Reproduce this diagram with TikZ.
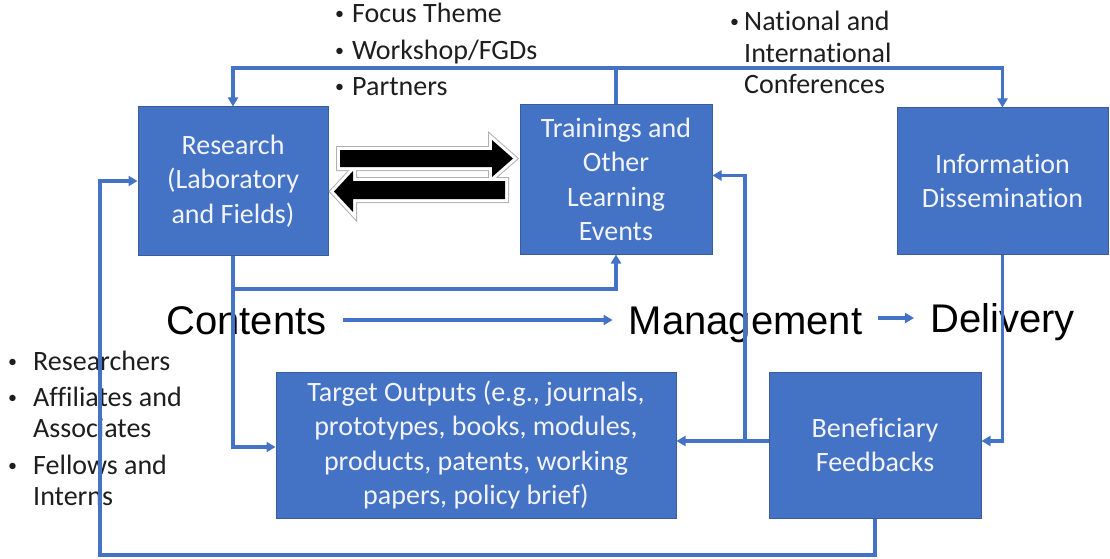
\documentclass[tikz,border=0pt]{standalone}
\usepackage{fontspec}
\setmainfont{Carlito}[Ligatures=NoCommon]
\newfontfamily\arialf{Liberation Sans}
\usetikzlibrary{arrows.meta,calc}
\definecolor{boxblue}{HTML}{4472C4}
\definecolor{boxedge}{HTML}{3A5C9A}
\definecolor{txt}{HTML}{1E1E1E}
\definecolor{boxtxt}{HTML}{F2F4FA}
\definecolor{glowgray}{HTML}{B0B0B0}
\newcommand{\mybul}[1]{\makebox[#1][l]{\raisebox{3pt}{\fontsize{18}{18}\selectfont\textbullet}}}
\begin{document}
\begin{tikzpicture}[x=1pt,y=-1pt,
  box/.style={rectangle, fill=boxblue, draw=boxedge, line width=1pt, text=boxtxt, align=center,
              font=\fontsize{28}{34.5}\selectfont, inner sep=0pt},
  conn/.style={draw=boxblue, line width=3.3pt},
  arr/.style={conn, -{Triangle[length=9pt,width=10pt]}},
  big/.style={font=\arialf\fontsize{40}{48}\selectfont, text=black, inner xsep=16pt, inner ysep=0pt, anchor=base},
  lst/.style={font=\fontsize{28}{31}\selectfont, text=txt, inner sep=0pt, anchor=base west}
]
\useasboundingbox (0,0) rectangle (1110,559);

% boxes
\node[box, minimum width=190pt, minimum height=148pt] (re) at (233,181) {Research\\(Laboratory\\and Fields)};
\node[box, minimum width=192pt, minimum height=149pt] (tr) at (616,179.5) {Trainings and\\Other\\Learning\\Events};
\node[box, minimum width=211pt, minimum height=146pt] (info) at (1002.5,181) {Information\\Dissemination};
\node[box, minimum width=400pt, minimum height=146pt] (tg) at (476,445) {Target Outputs (e.g., journals,\\prototypes, books, modules,\\products, patents, working\\papers, policy brief)};
\node[box, minimum width=212pt, minimum height=146pt] (bf) at (875,445) {Beneficiary\\Feedbacks};

% big labels
\node[big] (ct) at (246.5,334) {Contents};
\node[big] (mg) at (745.5,334) {Management};
\node[big] (dl) at (1002.5,332) {Delivery};
\coordinate (c1) at ([yshift=14pt]ct.base east);
\coordinate (m1) at ([yshift=16pt]mg.base east);
\draw[arr] (c1) -- (c1 -| mg.west);
\draw[arr] (m1) -- (m1 -| dl.west);

% bullet lists
\node[lst, font=\fontsize{28}{36.5}\selectfont] (l1) at (335,23) {\begin{tabular}[t]{@{}l@{}l@{}}\mybul{17pt} & Focus Theme\\ \mybul{17pt} & Workshop/FGDs\\ \mybul{17pt} & Partners\end{tabular}};
\node[lst, font=\fontsize{28}{31.5}\selectfont] (l2) at (730,31) {\begin{tabular}[t]{@{}l@{}l@{}}\mybul{14pt} & National and\\ & International\\ & Conferences\end{tabular}};
\node[lst] (l3) at (8,370) {\begin{tabular}[t]{@{}l@{}l@{}}\mybul{25pt} & Researchers\\[5pt] \mybul{25pt} & Affiliates and\\ & Associates\\[6pt] \mybul{25pt} & Fellows and\\ & Interns\end{tabular}};

% connectors
\coordinate (top) at (0,68);
\coordinate (j1) at (0,289);
\coordinate (lb) at (100,555);
\coordinate (bfw) at ([yshift=4pt]bf.west);
\coordinate (j2) at (745,0);
\draw[conn] (tr.north) -- (tr.north |- top);
\draw[arr] (tr.north |- top) -| (re.north);
\draw[arr] (tr.north |- top) -| (info.north);
\draw[arr] (re.south) |- ([yshift=-2pt]tg.west);
\draw[arr] (re.south |- j1) -| (tr.south);
\draw[arr] (info.south) |- ([yshift=4pt]bf.east);
\draw[arr] (bfw) -- ([yshift=4pt]tg.east);
\draw[arr] (j2 |- bfw) |- ([yshift=4pt]tr.east);
\draw[arr] (bf.south) |- (lb) |- (re.west);

% block arrows
\foreach \w/\c in {8/glowgray, 6/white}{
  \draw[line width=\w pt, draw=\c, line join=miter]
    (340,150) -- (492,150) -- (492,140) -- (513,158.5) -- (492,177) -- (492,167) -- (340,167) -- cycle;
  \draw[line width=\w pt, draw=\c, line join=miter]
    (505,181) -- (353,181) -- (353,171) -- (334,191.5) -- (353,212) -- (353,199) -- (505,199) -- cycle;
}
\fill[black] (340,150) -- (492,150) -- (492,140) -- (513,158.5) -- (492,177) -- (492,167) -- (340,167) -- cycle;
\fill[black] (505,181) -- (353,181) -- (353,171) -- (334,191.5) -- (353,212) -- (353,199) -- (505,199) -- cycle;
\end{tikzpicture}
\end{document}
